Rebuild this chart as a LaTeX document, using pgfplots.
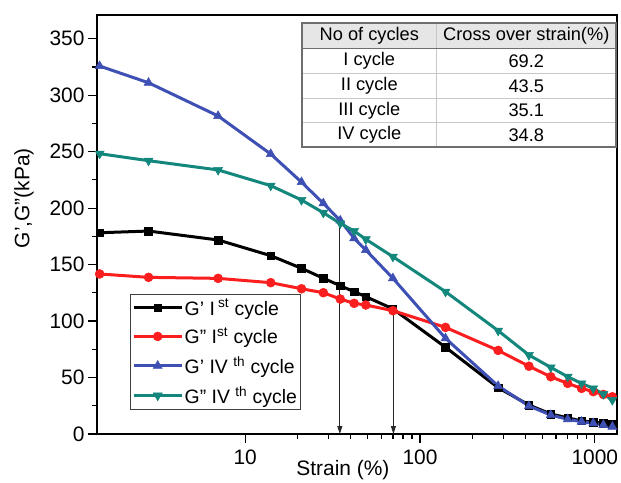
\documentclass[border=0pt]{standalone}
\usepackage{fontspec}
\setmainfont{Liberation Sans}
\usepackage{pgfplots}
\pgfplotsset{compat=1.18}
\usetikzlibrary{arrows.meta}
\definecolor{cRed}{RGB}{250,30,30}
\definecolor{cBlue}{RGB}{62,80,180}
\definecolor{cTeal}{RGB}{20,135,125}
\definecolor{tabLine}{RGB}{200,200,200}
\definecolor{tabBorder}{RGB}{110,110,110}
\definecolor{tabHead}{RGB}{230,230,230}
\newcommand\sq{\symbol{39}}
\newcommand\dq{\symbol{34}}
\begin{document}
\begin{tikzpicture}
\path[use as bounding box] (-97bp,-49bp) rectangle (524bp,434bp);
\begin{axis}[
  at={(0,0)}, anchor=south west,
  width=520bp, height=419bp, scale only axis,
  xmode=log, xmin=1.42, xmax=1340, ymin=0, ymax=371,
  xtick={10,100,1000}, xticklabels={10,100,1000},
  ytick={0,50,100,150,200,250,300,350},
  yticklabels={0,50,100,150,200,250,300,350},
  minor ytick={25,75,125,175,225,275,325},
  xtick pos=bottom, ytick pos=left,
  tick align=outside,
  major tick length=9bp, minor tick length=5bp,
  every tick/.style={black, line width=1.2bp},
  axis line style={line width=1.5bp},
  tick label style={font=\fontsize{21}{24}\selectfont},
  xticklabel style={yshift=-3bp},
  label style={font=\fontsize{21}{24}\selectfont},
  xlabel={Strain (\%)},
  ylabel={G\sq,G\dq(kPa)},
  xlabel style={at={(axis description cs:0.473,0)}, anchor=base, yshift=-41bp, inner sep=0pt},
  ylabel style={at={(axis description cs:-0.1404,0.563)}, anchor=center, inner sep=0pt},
  legend style={at={(axis description cs:0.0635,0.334)}, anchor=north west,
    font=\fontsize{19.5}{22}\selectfont, draw=black!75,
    inner xsep=2bp, inner ysep=4bp, row sep=10bp,
    nodes={inner xsep=1.5bp, inner ysep=0.5bp}},
  legend cell align=left,
  legend image code/.code={\draw[mark repeat=2,mark phase=2,#1,line width=3bp] plot coordinates {(0bp,0bp) (24bp,0bp) (48bp,0bp)};},
]
\addplot[black, line width=3bp, mark=square*, mark size=3.8bp, mark options={line width=0.5bp}] coordinates {
(1.47,178.2) (2.8,179.7) (7,171.8) (14,157.9) (21,146.7) (28,137.9) (35,131.3) (42,126) (49,121.6) (70,110.8) (140,76.8) (280,41) (420,25.7) (560,17.7) (700,14.3) (840,11.6) (980,10.5) (1120,9.5) (1260,8.5)};
\addlegendentry{G\sq\ I\,\textsuperscript{st} cycle}
\addplot[cRed, line width=3bp, mark=*, mark size=4.5bp, mark options={line width=0.5bp}] coordinates {
(1.47,141.7) (2.8,138.7) (7,137.8) (14,134) (21,128.6) (28,125.1) (35,119.5) (42,115.7) (49,114.2) (70,109.2) (140,94.4) (280,74) (420,60) (560,50.7) (700,44.8) (840,40.4) (980,37.5) (1120,35) (1260,33)};
\addlegendentry{G\dq\ I\textsuperscript{st} cycle}
\addplot[cBlue, line width=3bp, mark=triangle*, mark size=5.2bp, mark options={line width=0.5bp}] coordinates {
(1.47,325.8) (2.8,311) (7,281.6) (14,247.9) (21,223) (28,204.2) (35,189) (42,173.3) (49,162.9) (70,137.9) (140,84.7) (280,42.5) (420,24.8) (560,16.8) (700,13) (840,10.9) (980,9.5) (1120,8) (1260,6.5)};
\addlegendentry{G\sq\ IV \textsuperscript{th} cycle}
\addplot[cTeal, line width=3bp, mark=triangle*, mark size=5.2bp, mark options={rotate=180, line width=0.5bp}] coordinates {
(1.47,248.2) (2.8,242) (7,233.8) (14,219.9) (21,207.2) (28,195.9) (35,186.5) (42,179.7) (49,172.4) (70,157) (140,126) (280,91.5) (420,69.9) (560,59) (700,50.7) (840,44.8) (980,40.4) (1120,35.4) (1260,30.1)};
\addlegendentry{G\dq\ IV \textsuperscript{th} cycle}
\draw[-{Triangle[length=8bp,width=5bp]}, line width=0.9bp, black!85] (axis cs:34.8,190) -- (axis cs:34.8,0);
\draw[-{Triangle[length=8bp,width=5bp]}, line width=0.9bp, black!85] (axis cs:70.5,110) -- (axis cs:70.5,0);
\end{axis}
% table (annotation), coordinates in bp relative to the axis box
\fill[tabHead] (205bp,385.7bp) rectangle (519bp,411bp);
\draw[tabLine, line width=1bp] (205bp,360.7bp) -- (519bp,360.7bp)
  (205bp,335.7bp) -- (519bp,335.7bp) (205bp,311.3bp) -- (519bp,311.3bp)
  (339.7bp,287bp) -- (339.7bp,411bp);
\draw[tabBorder, line width=1.3bp] (205bp,385.7bp) -- (519bp,385.7bp);
\draw[tabBorder, line width=1.5bp] (205bp,287bp) rectangle (519bp,411bp);
\begin{scope}[every node/.style={font=\fontsize{18.3}{20}\selectfont, inner sep=0pt, anchor=center}]
\node at (272.3bp,398.3bp) {No of cycles};
\node at (429.3bp,398.3bp) {Cross over strain(\%)};
\node at (272.3bp,373.2bp) {I cycle};
\node at (429.3bp,373.2bp) {69.2};
\node at (272.3bp,348.2bp) {II cycle};
\node at (429.3bp,348.2bp) {43.5};
\node at (272.3bp,323.5bp) {III cycle};
\node at (429.3bp,323.5bp) {35.1};
\node at (272.3bp,299.2bp) {IV cycle};
\node at (429.3bp,299.2bp) {34.8};
\end{scope}
\end{tikzpicture}
\end{document}
